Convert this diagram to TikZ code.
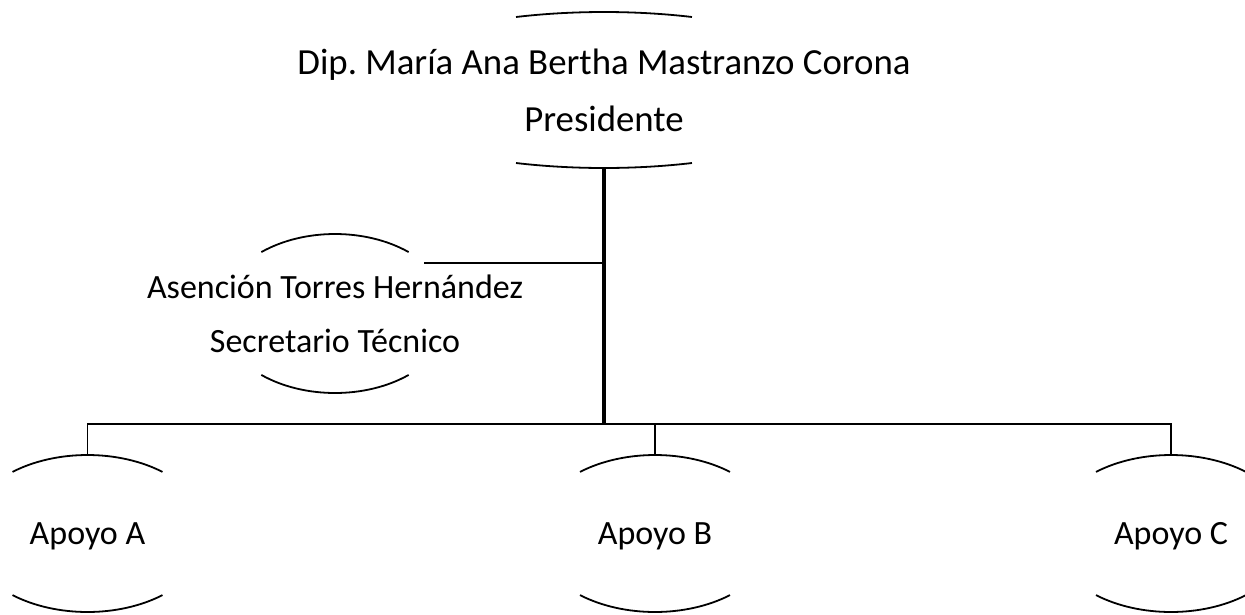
\documentclass[tikz,border=0pt]{standalone}
\usepackage{fontspec}
\setmainfont{Carlito}
\frenchspacing

\begin{document}
\begin{tikzpicture}[x=1pt, y=1pt,
    arcline/.style={line width=1.8pt},
    trunk/.style={line width=4pt},
    link/.style={line width=1.9pt},
    big/.style={font=\fontsize{36.8}{57}\selectfont, align=center},
    small/.style={font=\fontsize{34}{54}\selectfont, align=center},
    oneline/.style={small, text height=22pt, text depth=0pt}]
    \useasboundingbox (0, 0) rectangle (1245, -614);

    % Presidente
    \node[big] (pres) at (604, -90) {Dip. María Ana Bertha Mastranzo Corona\\Presidente};
    \draw[arcline] (pres.center) ++(69.4:250pt and 78pt) arc[start angle=69.4, end angle=110.6, x radius=250pt, y radius=78pt];
    \draw[arcline] (pres.center) ++(-69.4:250pt and 78pt) arc[start angle=-69.4, end angle=-110.6, x radius=250pt, y radius=78pt];

    % Secretario
    \node[small] (sec) at (335, -313.5) {Asención Torres Hernández\\Secretario Técnico};
    \draw[arcline] (sec.center) ++(50.6:116pt and 79.5pt) arc[start angle=50.6, end angle=129.4, x radius=116pt, y radius=79.5pt];
    \draw[arcline] (sec.center) ++(-50.6:116pt and 79.5pt) arc[start angle=-50.6, end angle=-129.4, x radius=116pt, y radius=79.5pt];

    % Apoyos
    \node[oneline] (apoyoA) at (87.5, -533.5) {Apoyo A};
    \node[oneline] (apoyoB) at (655, -533.5) {Apoyo B};
    \node[oneline] (apoyoC) at (1171, -533.5) {Apoyo C};
    \foreach \n in {apoyoA, apoyoB, apoyoC} {
        \draw[arcline] (\n.center) ++(51.7:121pt and 78.5pt) arc[start angle=51.7, end angle=128.3, x radius=121pt, y radius=78.5pt];
        \draw[arcline] (\n.center) ++(-51.7:121pt and 78.5pt) arc[start angle=-51.7, end angle=-128.3, x radius=121pt, y radius=78.5pt];
        \coordinate (\n-top) at ([yshift=78.5pt]\n.center);
    }

    % lines
    \coordinate (hub) at (604, -424);
    \coordinate (seclink) at (424, -263);
    \draw[link] (seclink) -- (seclink -| hub);
    \draw[link] (apoyoA-top) |- (hub) -| (apoyoC-top);
    \draw[link] (apoyoB-top) -- (apoyoB-top |- hub);
    \draw[trunk] ([yshift=-78pt]pres.center) -- (hub);
\end{tikzpicture}
\end{document}
